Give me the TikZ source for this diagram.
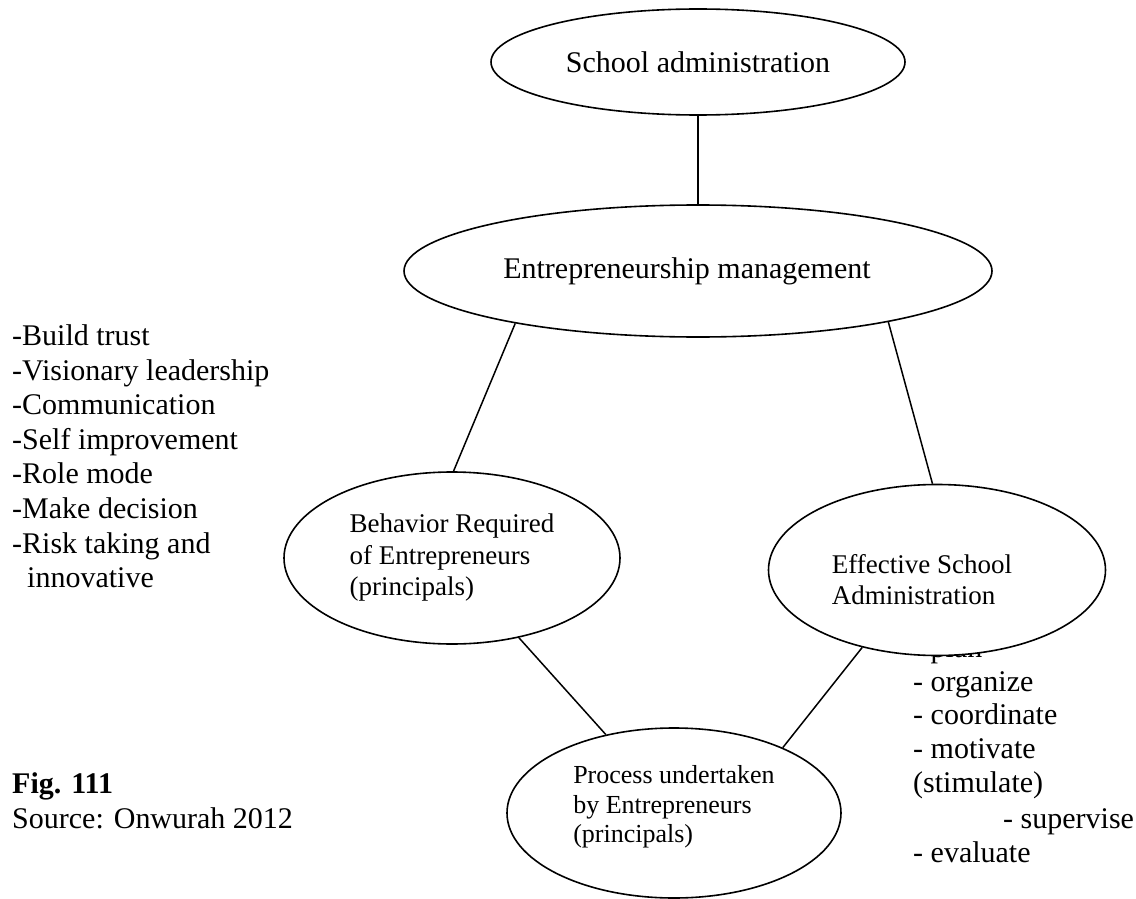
\documentclass[tikz,border=0pt]{standalone}
\usepackage{fontspec}
\setmainfont{Liberation Serif}
\usetikzlibrary{shapes.geometric}
\begin{document}
\begin{tikzpicture}[x=1pt,y=-1pt,
  ell/.style={draw, ellipse, line width=1.6pt, fill=white, inner sep=0pt, align=left},
  big/.style={font=\fontsize{30}{34.6}\selectfont},
  mid/.style={font=\fontsize{27}{31.5}\selectfont},
  sml/.style={font=\fontsize{26}{29.5}\selectfont},
  txt/.style={anchor=base west, inner sep=0pt, font=\fontsize{30}{34.6}\selectfont},
  conn/.style={line width=1.5pt}]
\useasboundingbox (0,0) rectangle (1136,899);

% right-hand list (the first item is partly hidden by the ellipse)
\node[txt] (r1) at (913,657) {- plan};
\node[txt] (r2) at (913,691) {- organize};
\node[txt] (r3) at (913,724) {- coordinate};
\node[txt] (r4) at (913,758) {- motivate};
\node[txt] (r5) at (913,792) {(stimulate)};
\node[txt] (r6) at (1003,828) {- supervise};
\node[txt] (r7) at (913,862) {- evaluate};

% left-hand list
\node[txt] (l1) at (12,345) {-Build trust};
\node[txt] (l2) at (12,380) {-Visionary leadership};
\node[txt] (l3) at (12,414) {-Communication};
\node[txt] (l4) at (12,449) {-Self improvement};
\node[txt] (l5) at (12,483) {-Role mode};
\node[txt] (l6) at (12,518) {-Make decision};
\node[txt] (l7) at (12,553) {-Risk taking and};
\node[txt] (l8) at (27,587) {innovative};

% caption
\node[txt, font=\fontsize{30}{34.6}\selectfont\bfseries] (fig) at (12,793) {Fig. 111};
\node[txt] (src) at (12,828) {Source: Onwurah 2012};

% ellipses
\node[ell, big, minimum width=414pt, minimum height=106pt] (sa) at (698,62) {School administration};
\node[ell, big, minimum width=588pt, minimum height=132pt] (em) at (698,271) {Entrepreneurship management\hspace*{22pt}};
\node[ell, mid, minimum width=336pt, minimum height=172pt] (beh) at (452,558) {Behavior Required\\of Entrepreneurs\\(principals)};
\node[ell, mid, minimum width=337pt, minimum height=171pt] (eff) at (937,570) {\rule{0pt}{38pt}Effective School\hspace*{30pt}\\Administration};
\node[ell, sml, minimum width=334pt, minimum height=170pt] (proc) at (674,813) {Process undertaken\\by Entrepreneurs\\(principals)\rule[-17.5pt]{0pt}{1pt}};

% connectors
\draw[conn] (sa.south) -- (em.north);
\draw[conn] (em.196) -- (beh.89);
\draw[conn] (em.-15.5) -- (eff.93);
\draw[conn] (beh.-50) -- (proc.131.6);
\draw[conn] (eff.226) -- (proc.31.7);
\end{tikzpicture}
\end{document}
